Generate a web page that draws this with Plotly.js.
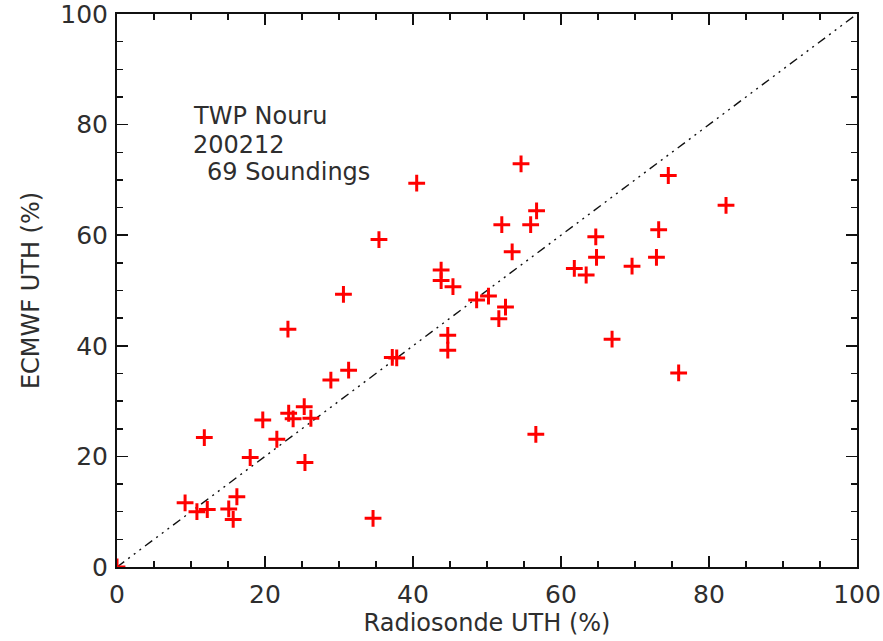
<!DOCTYPE html>
<html>
<head>
<meta charset="utf-8">
<script src="https://cdn.plot.ly/plotly-3.0.1.min.js"></script>
<style>
  html, body { margin: 0; padding: 0; background: #ffffff; }
  #chart { width: 883px; height: 641px; }
</style>
</head>
<body>
<div id="chart"></div>
<script>
// Radiosonde UTH (%) vs ECMWF UTH (%), TWP Nauru, 200212
const radiosondeUTH = [
  0.0, 9.2, 10.8, 12.2, 15.1, 16.2, 15.7, 11.8, 18.0, 19.7,
  21.6, 23.2, 23.8, 25.3, 26.2, 25.4, 23.1, 28.9, 31.3, 30.6,
  34.6, 35.4, 37.2, 37.8, 40.5, 43.8, 43.8, 45.4, 44.7, 44.7,
  48.6, 50.2, 52.5, 51.6, 52.0, 55.9, 53.4, 54.6, 56.7, 56.6,
  61.8, 63.4, 64.7, 64.8, 66.9, 69.6, 72.9, 73.2, 74.5, 75.9,
  82.3
];
const ecmwfUTH = [
  0.0, 11.6, 10.0, 10.4, 10.5, 12.7, 8.6, 23.4, 19.8, 26.6,
  23.1, 27.8, 26.8, 29.0, 26.9, 18.9, 43.0, 33.8, 35.6, 49.3,
  8.8, 59.2, 37.9, 37.8, 69.4, 53.7, 51.8, 50.7, 41.9, 39.2,
  48.3, 49.0, 47.0, 44.9, 61.9, 61.9, 57.0, 72.9, 64.4, 24.0,
  54.0, 52.8, 59.7, 56.0, 41.2, 54.4, 56.0, 61.0, 70.8, 35.1,
  65.4
];
const oneToOne = [0, 100];
const tickValues = [0, 20, 40, 60, 80, 100];
const tickLabels = ["0", "20", "40", "60", "80", "100"];
const infoLines = ["TWP Nouru", "200212", "69 Soundings"];
const infoX = [10.0, 10.0, 11.9];
const infoY = [81.6, 76.3, 71.4];

const FONT = "DejaVu Sans, Liberation Sans, sans-serif";
const TXT = "#2e2e2e";

const traces = [
  {
    x: oneToOne, y: oneToOne,
    mode: "lines",
    line: { color: "#111111", width: 1.4, dash: "9px,5px,2px,5px,2px,5px,2px,5px" },
    hoverinfo: "skip",
    showlegend: false
  },
  {
    x: radiosondeUTH, y: ecmwfUTH,
    mode: "markers",
    marker: { symbol: "cross-thin", size: 12, color: "#ff0000",
              line: { color: "#ff0000", width: 3 } },
    showlegend: false
  }
];

function axis(titleText, standoff) {
  return {
    range: [0, 100],
    tickmode: "array", tickvals: tickValues, ticktext: tickLabels,
    ticks: "inside", ticklen: 11, tickwidth: 1.5, tickcolor: "#111",
    minor: { tickmode: "linear", tick0: 0, dtick: 5, ticks: "inside", ticklen: 6, tickwidth: 1.5, tickcolor: "#111", showgrid: false },
    showline: true, linecolor: "#111", linewidth: 2,
    mirror: "allticks",
    showgrid: false, zeroline: false,
    ticklabeloverflow: "allow",
    tickfont: { family: FONT, size: 25, color: TXT },
    title: { text: titleText, font: { family: FONT, size: 24, color: TXT }, standoff: standoff },
    fixedrange: true
  };
}

const layout = {
  width: 883, height: 641,
  margin: { l: 117, r: 26, t: 14, b: 74, pad: 0 },
  paper_bgcolor: "#ffffff",
  plot_bgcolor: "#ffffff",
  showlegend: false,
  xaxis: Object.assign(axis("Radiosonde UTH (%)", 6), { ticklabelstandoff: 4 }),
  yaxis: Object.assign(axis("ECMWF UTH (%)", 14), { ticklabelstandoff: 2 }),
  annotations: infoLines.map((t, i) => ({
    x: infoX[i], y: infoY[i], xref: "x", yref: "y",
    text: t, showarrow: false, xanchor: "left", yanchor: "middle",
    font: { family: FONT, size: 24, color: TXT }
  }))
};

Plotly.newPlot("chart", traces, layout, { staticPlot: true, displayModeBar: false });
</script>
</body>
</html>
